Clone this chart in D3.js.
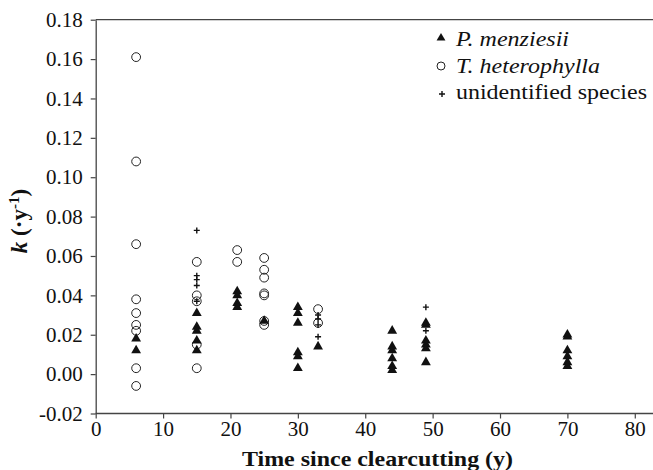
<!DOCTYPE html>
<html>
<head>
<meta charset="UTF-8">
<title>k vs time since clearcutting</title>
<script src="https://d3js.org/d3.v7.min.js"></script>
<style>
body { margin: 0; background: #fff; }
</style>
</head>
<body>
<div id="chart"></div>
<script>
// values
const pmAge = [6, 6, 15, 15, 15, 15, 15, 21, 21, 21, 21, 25, 30, 30, 30, 30, 30, 30, 33,
               44, 44, 44, 44, 44, 44, 49, 49, 49, 49, 49, 49, 70, 70, 70, 70, 70, 70];
const pmK = [0.018, 0.012, 0.031, 0.024, 0.022, 0.017, 0.012, 0.042, 0.040, 0.036, 0.034, 0.027,
             0.034, 0.031, 0.026, 0.011, 0.009, 0.003, 0.014,
             0.022, 0.014, 0.012, 0.008, 0.004, 0.002, 0.026, 0.025, 0.017, 0.015, 0.013, 0.006,
             0.020, 0.019, 0.012, 0.009, 0.006, 0.004];

const thAge = [6, 6, 6, 6, 6, 6, 6, 6, 6, 15, 15, 15, 15, 15, 21, 21, 25, 25, 25, 25, 25, 25, 25, 33, 33];
const thK = [0.161, 0.108, 0.066, 0.038, 0.031, 0.025, 0.022, 0.003, -0.006,
             0.057, 0.040, 0.037, 0.015, 0.003, 0.063, 0.057,
             0.059, 0.053, 0.049, 0.041, 0.040, 0.027, 0.025, 0.033, 0.026];

const unAge = [15, 15, 15, 15, 15, 33, 33, 33, 33, 49, 49];
const unK = [0.073, 0.050, 0.048, 0.045, 0.037, 0.030, 0.028, 0.025, 0.019, 0.034, 0.022];

const xTicks = [0, 10, 20, 30, 40, 50, 60, 70, 80];
const yTicks = [-0.02, 0, 0.02, 0.04, 0.06, 0.08, 0.10, 0.12, 0.14, 0.16, 0.18];
const legendNames = ["P. menziesii", "T. heterophylla", "unidentified species"];

const width = 653, height = 470;
const axisCol = "#444";
const serif = "Liberation Serif";

const svg = d3.select("#chart").append("svg")
  .attr("width", width)
  .attr("height", height)
  .attr("font-family", serif);

const x = d3.scaleLinear().domain([0, 83]).range([95.7, 655]);
const y = d3.scaleLinear().domain([-0.02, 0.18]).range([413.5, 19.7]);

// top frame line
svg.append("line")
  .attr("x1", x(0)).attr("x2", width)
  .attr("y1", y(0.18)).attr("y2", y(0.18))
  .attr("stroke", axisCol).attr("stroke-width", 1.3);

// x axis
const gx = svg.append("g")
  .attr("transform", `translate(0,${y(-0.02)})`)
  .call(d3.axisBottom(x).tickValues(xTicks).tickSize(5).tickSizeOuter(0).tickPadding(3))
  .attr("font-family", serif).attr("font-size", 21);
gx.select(".domain").attr("stroke", axisCol).attr("stroke-width", 1.3)
  .attr("d", `M${x(0)},0H${width}`);
gx.selectAll(".tick line").attr("stroke", axisCol).attr("stroke-width", 1.2);
gx.selectAll(".tick text").attr("fill", "#111");

// y axis
const gy = svg.append("g")
  .attr("transform", `translate(${x(0)},0)`)
  .call(d3.axisLeft(y).tickValues(yTicks).tickSize(5).tickSizeOuter(0).tickPadding(8)
    .tickFormat(d => d3.format(".2f")(d).replace("−", "-")))
  .attr("font-family", serif).attr("font-size", 21);
gy.select(".domain").attr("stroke", axisCol).attr("stroke-width", 1.3);
gy.selectAll(".tick line").attr("stroke", axisCol).attr("stroke-width", 1.2);
gy.selectAll(".tick text").attr("fill", "#111");

// axis titles
svg.append("text")
  .attr("x", 242).attr("y", 466)
  .attr("textLength", 271).attr("lengthAdjust", "spacingAndGlyphs")
  .attr("font-family", serif)
  .attr("font-size", 21).attr("font-weight", "bold")
  .attr("fill", "#111")
  .text("Time since clearcutting (y)");

const yl = svg.append("text")
  .attr("transform", "translate(27,221) rotate(-90)")
  .attr("text-anchor", "middle")
  .attr("font-family", serif)
  .attr("font-size", 23).attr("font-weight", "bold")
  .attr("fill", "#111");
yl.append("tspan").attr("font-style", "italic").text("k");
yl.append("tspan").text(" (·y");
yl.append("tspan").attr("dy", -8).attr("font-size", 15).text("-1");
yl.append("tspan").attr("dy", 8).text(")");

// marks
const tri = d3.symbol().type(d3.symbolTriangle).size(42);
const plusPath = "M-3,0H3M0,-3V3";

svg.append("g").selectAll("circle")
  .data(d3.zip(thAge, thK))
  .join("circle")
  .attr("cx", d => x(d[0]))
  .attr("cy", d => y(d[1]))
  .attr("r", 4.4)
  .attr("fill", "none")
  .attr("stroke", "#222")
  .attr("stroke-width", 1);

svg.append("g").selectAll("path")
  .data(d3.zip(pmAge, pmK))
  .join("path")
  .attr("d", tri)
  .attr("transform", d => `translate(${x(d[0])},${y(d[1])})`)
  .attr("fill", "#111");

svg.append("g").selectAll("path")
  .data(d3.zip(unAge, unK))
  .join("path")
  .attr("d", plusPath)
  .attr("transform", d => `translate(${x(d[0])},${y(d[1])})`)
  .attr("fill", "none")
  .attr("stroke", "#111")
  .attr("stroke-width", 1.4);

// legend
const lg = svg.append("g");
const textY = [46, 73, 99];
const textLen = [113, 144, 191];
lg.append("path").attr("d", d3.symbol().type(d3.symbolTriangle).size(34))
  .attr("transform", "translate(441,38)").attr("fill", "#111");
lg.append("circle").attr("cx", 441).attr("cy", 66).attr("r", 4)
  .attr("fill", "none").attr("stroke", "#222").attr("stroke-width", 1);
lg.append("path").attr("d", plusPath)
  .attr("transform", "translate(442,94)")
  .attr("fill", "none").attr("stroke", "#111").attr("stroke-width", 1.4);

legendNames.forEach((name, i) => {
  lg.append("text")
    .attr("x", 456).attr("y", textY[i])
    .attr("textLength", textLen[i]).attr("lengthAdjust", "spacingAndGlyphs")
    .attr("font-family", serif)
    .attr("font-size", 21)
    .attr("font-style", i < 2 ? "italic" : "normal")
    .attr("fill", "#111")
    .text(name);
});
</script>
</body>
</html>
